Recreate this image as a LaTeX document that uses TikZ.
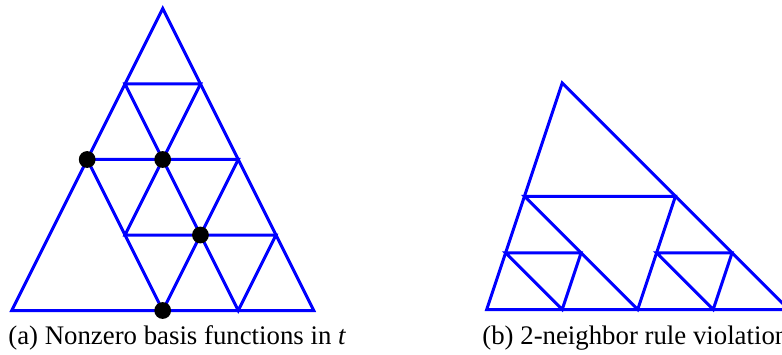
\documentclass[tikz,border=0pt]{standalone}
\usepackage{fontspec}
\setmainfont{Liberation Serif}
\usetikzlibrary{positioning}

\begin{document}
\begin{tikzpicture}[x=0.5pt,y=0.5pt,
  mesh/.style={draw=blue,line width=1.5pt},
  vtx/.style={circle,fill=black,inner sep=0pt,minimum size=8.4pt},
  subcap/.style={font=\fontsize{13.4}{15}\selectfont,anchor=base west,inner sep=0pt}]
\useasboundingbox (0,0) rectangle (782,354);
% (a) uniformly refined triangle
\begin{scope}[shift={(11.7,43.5)},scale=302]
\coordinate (aL) at (0,0);     \coordinate (aR) at (1,0);     \coordinate (aT) at (0.5,1);
\coordinate (am1) at (0.25,0.5); \coordinate (am2) at (0.75,0.5); \coordinate (am3) at (0.5,0);
\coordinate (at1) at (0.375,0.75); \coordinate (at2) at (0.625,0.75); \coordinate (ac) at (0.5,0.5);
\coordinate (ac1) at (0.375,0.25); \coordinate (ac2) at (0.625,0.25);
\coordinate (ar1) at (0.875,0.25); \coordinate (ar2) at (0.75,0);
\end{scope}
\draw[mesh] (aL) -- (aR) -- (aT) -- cycle;
\draw[mesh] (am1) -- (am2) -- (am3) -- cycle;
\draw[mesh] (at1) -- (at2) -- (ac) -- cycle;
\draw[mesh] (ac1) -- (ac2) -- (ac) -- cycle;
\draw[mesh] (ac2) -- (ar1) -- (ar2) -- cycle;
\node[vtx] (d1) at (am1) {};
\node[vtx] (d2) at (ac) {};
\node[vtx] (d3) at (ac2) {};
\node[vtx] (d4) at (am3) {};
\node[subcap] (capa) at (8,10) {(a) Nonzero basis functions in \textit{t}};
% (b) non-conforming refinement
\begin{scope}[shift={(486.7,44.5)},scale=302]
\coordinate (bL) at (0,0);     \coordinate (bR) at (1,0);     \coordinate (bT) at (0.25,0.75);
\coordinate (bm1) at (0.125,0.375); \coordinate (bm2) at (0.625,0.375); \coordinate (bm3) at (0.5,0);
\coordinate (bl1) at (0.0625,0.1875); \coordinate (bl2) at (0.3125,0.1875); \coordinate (bl3) at (0.25,0);
\coordinate (br1) at (0.5625,0.1875); \coordinate (br2) at (0.8125,0.1875); \coordinate (br3) at (0.75,0);
\end{scope}
\draw[mesh] (bL) -- (bR) -- (bT) -- cycle;
\draw[mesh] (bm1) -- (bm2) -- (bm3) -- cycle;
\draw[mesh] (bl1) -- (bl2) -- (bl3) -- cycle;
\draw[mesh] (br1) -- (br2) -- (br3) -- cycle;
\node[subcap] (capb) at (482,10) {(b) 2-neighbor rule violation};
\end{tikzpicture}
\end{document}
